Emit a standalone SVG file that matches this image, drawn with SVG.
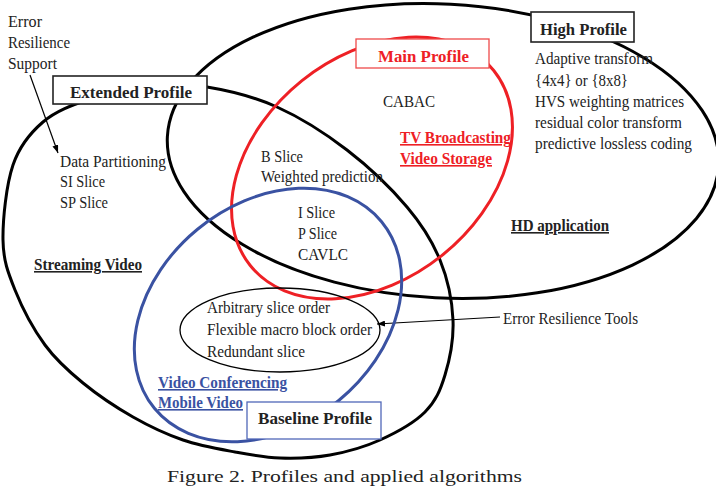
<svg xmlns="http://www.w3.org/2000/svg" width="716" height="488" viewBox="0 0 716 488">
<defs>
<marker id="ah" viewBox="0 0 8 6" refX="8" refY="3" markerWidth="8" markerHeight="6" markerUnits="userSpaceOnUse" orient="auto">
<path d="M0,0 L8,3 L0,6 z" fill="#000"/>
</marker>
</defs>
<style>
text{font-family:'Liberation Serif',serif;font-size:16px;fill:#222}
.b{font-weight:bold}
.u{text-decoration:underline}
.red{fill:#EE2025}
.blue{fill:#3A52A2}
.ell{fill:none;stroke-width:3}
.blk{stroke:#000}
.box{fill:#fff}
</style>
<rect width="716" height="488" fill="#fff"/>

<g id="connectors">
<line x1="30" y1="75" x2="58" y2="153" stroke="#000" stroke-width="1.2" marker-end="url(#ah)"/>
<line x1="500" y1="317" x2="377" y2="324" stroke="#000" stroke-width="1.2" marker-end="url(#ah)"/>
</g>

<g id="high-profile">
<ellipse class="ell blk" cx="443" cy="151" rx="276" ry="147" transform="rotate(3 443 151)"/>
</g>
<g id="extended-profile">
<path class="ell blk" d="M3,240 C2.67,219.17 6.33,184.67 13,165 C19.67,145.33 30.17,133 43,122 C55.83,111 72.17,105 90,99 C107.83,93 130.5,88 150,86 C169.5,84 185.830,83.5 207,87 C228.17,90.5 253.67,96.5 277,107 C300.33,117.5 325.33,133.33 347,150 C368.67,166.67 391.5,188.67 407,207 C422.5,225.33 432.33,241.17 440,260 C447.67,278.83 452.17,300.83 453,320 C453.83,339.17 449.67,359.67 445,375 C440.33,390.33 435.83,401.17 425,412 C414.17,422.83 395.83,432.83 380,440 C364.17,447.17 346.67,452 330,455 C313.33,458 295.83,458.5 280,458 C264.17,457.5 251.17,455 235,452 C218.83,449 200,445.830 183,440 C166,434.17 149.67,426.5 133,417 C116.33,407.5 97.67,395 83,383 C68.33,371 56.33,360.5 45,345 C33.67,329.5 22,307.5 15,290 C8,272.5 3.33,260.83 3,240 Z"/>
</g>
<g id="main-profile">
<ellipse class="ell" stroke="#EE2025" cx="372" cy="168" rx="156" ry="112" transform="rotate(-38.7 372 168)"/>
</g>
<g id="baseline-profile">
<ellipse class="ell" stroke="#3A52A2" cx="268" cy="315" rx="147" ry="111" transform="rotate(-39.4 268 315)"/>
</g>
<g id="error-resilience-tools">
<ellipse cx="280" cy="330" rx="100" ry="42" fill="none" stroke="#000" stroke-width="1.3"/>
</g>

<g id="extended-label">
<rect class="box" x="53" y="76" width="154" height="28" stroke="#222" stroke-width="1.6"/>
<text class="b" font-family="Liberation Serif" x="70" y="98" font-size="18" textLength="122" lengthAdjust="spacingAndGlyphs">Extended Profile</text>
</g>
<g id="high-label">
<rect class="box" x="531" y="12" width="103" height="30" stroke="#222" stroke-width="1.6"/>
<text class="b" font-family="Liberation Serif" x="540" y="35" font-size="18" textLength="87" lengthAdjust="spacingAndGlyphs">High Profile</text>
</g>
<g id="main-label">
<rect class="box" x="356" y="39" width="133" height="29" stroke="#EE4A4A" stroke-width="1.3"/>
<text class="b red" font-family="Liberation Serif" x="378" y="62" font-size="18" textLength="91" lengthAdjust="spacingAndGlyphs">Main Profile</text>
</g>
<g id="baseline-label">
<rect class="box" x="247" y="402" width="134" height="37" stroke="#5068B8" stroke-width="1.3"/>
<text class="b" font-family="Liberation Serif" x="258" y="424" font-size="18" textLength="114" lengthAdjust="spacingAndGlyphs">Baseline Profile</text>
</g>

<g id="texts" font-family="Liberation Serif">
<text x="8" y="27" textLength="34" lengthAdjust="spacingAndGlyphs">Error</text>
<text x="8" y="48" textLength="62" lengthAdjust="spacingAndGlyphs">Resilience</text>
<text x="8" y="69" textLength="49" lengthAdjust="spacingAndGlyphs">Support</text>

<text x="60" y="167" textLength="106" lengthAdjust="spacingAndGlyphs">Data Partitioning</text>
<text x="60" y="187" textLength="45" lengthAdjust="spacingAndGlyphs">SI Slice</text>
<text x="60" y="208" textLength="48" lengthAdjust="spacingAndGlyphs">SP Slice</text>

<text x="383" y="107" textLength="52" lengthAdjust="spacingAndGlyphs">CABAC</text>
<text class="b u red" x="400" y="143" textLength="111" lengthAdjust="spacingAndGlyphs">TV Broadcasting</text>
<text class="b u red" x="400" y="164" textLength="92" lengthAdjust="spacingAndGlyphs">Video Storage</text>

<text x="535" y="64" textLength="118" lengthAdjust="spacingAndGlyphs">Adaptive transform</text>
<text x="535" y="86" textLength="93" lengthAdjust="spacingAndGlyphs">{4x4} or {8x8}</text>
<text x="535" y="107" textLength="149" lengthAdjust="spacingAndGlyphs">HVS weighting matrices</text>
<text x="535" y="128" textLength="147" lengthAdjust="spacingAndGlyphs">residual color transform</text>
<text x="535" y="149" textLength="157" lengthAdjust="spacingAndGlyphs">predictive lossless coding</text>

<text x="261" y="162" textLength="42" lengthAdjust="spacingAndGlyphs">B Slice</text>
<text x="261" y="182" textLength="122" lengthAdjust="spacingAndGlyphs">Weighted prediction</text>

<text x="298" y="218" textLength="37" lengthAdjust="spacingAndGlyphs">I Slice</text>
<text x="298" y="239" textLength="39" lengthAdjust="spacingAndGlyphs">P Slice</text>
<text x="298" y="260" textLength="50" lengthAdjust="spacingAndGlyphs">CAVLC</text>

<text class="b u" x="511" y="231" textLength="98" lengthAdjust="spacingAndGlyphs">HD application</text>
<text class="b u" x="34" y="270" textLength="108" lengthAdjust="spacingAndGlyphs">Streaming Video</text>

<text x="207" y="313" textLength="123" lengthAdjust="spacingAndGlyphs">Arbitrary slice order</text>
<text x="207" y="335" textLength="165" lengthAdjust="spacingAndGlyphs">Flexible macro block order</text>
<text x="207" y="357" textLength="98" lengthAdjust="spacingAndGlyphs">Redundant slice</text>

<text x="503" y="324" textLength="135" lengthAdjust="spacingAndGlyphs">Error Resilience Tools</text>

<text class="b u blue" x="158" y="388" textLength="129" lengthAdjust="spacingAndGlyphs">Video Conferencing</text>
<text class="b u blue" x="158" y="408" textLength="85" lengthAdjust="spacingAndGlyphs">Mobile Video</text>

<text x="167" y="482" font-size="21" textLength="355" lengthAdjust="spacingAndGlyphs">Figure 2. Profiles and applied algorithms</text>
</g>
</svg>
